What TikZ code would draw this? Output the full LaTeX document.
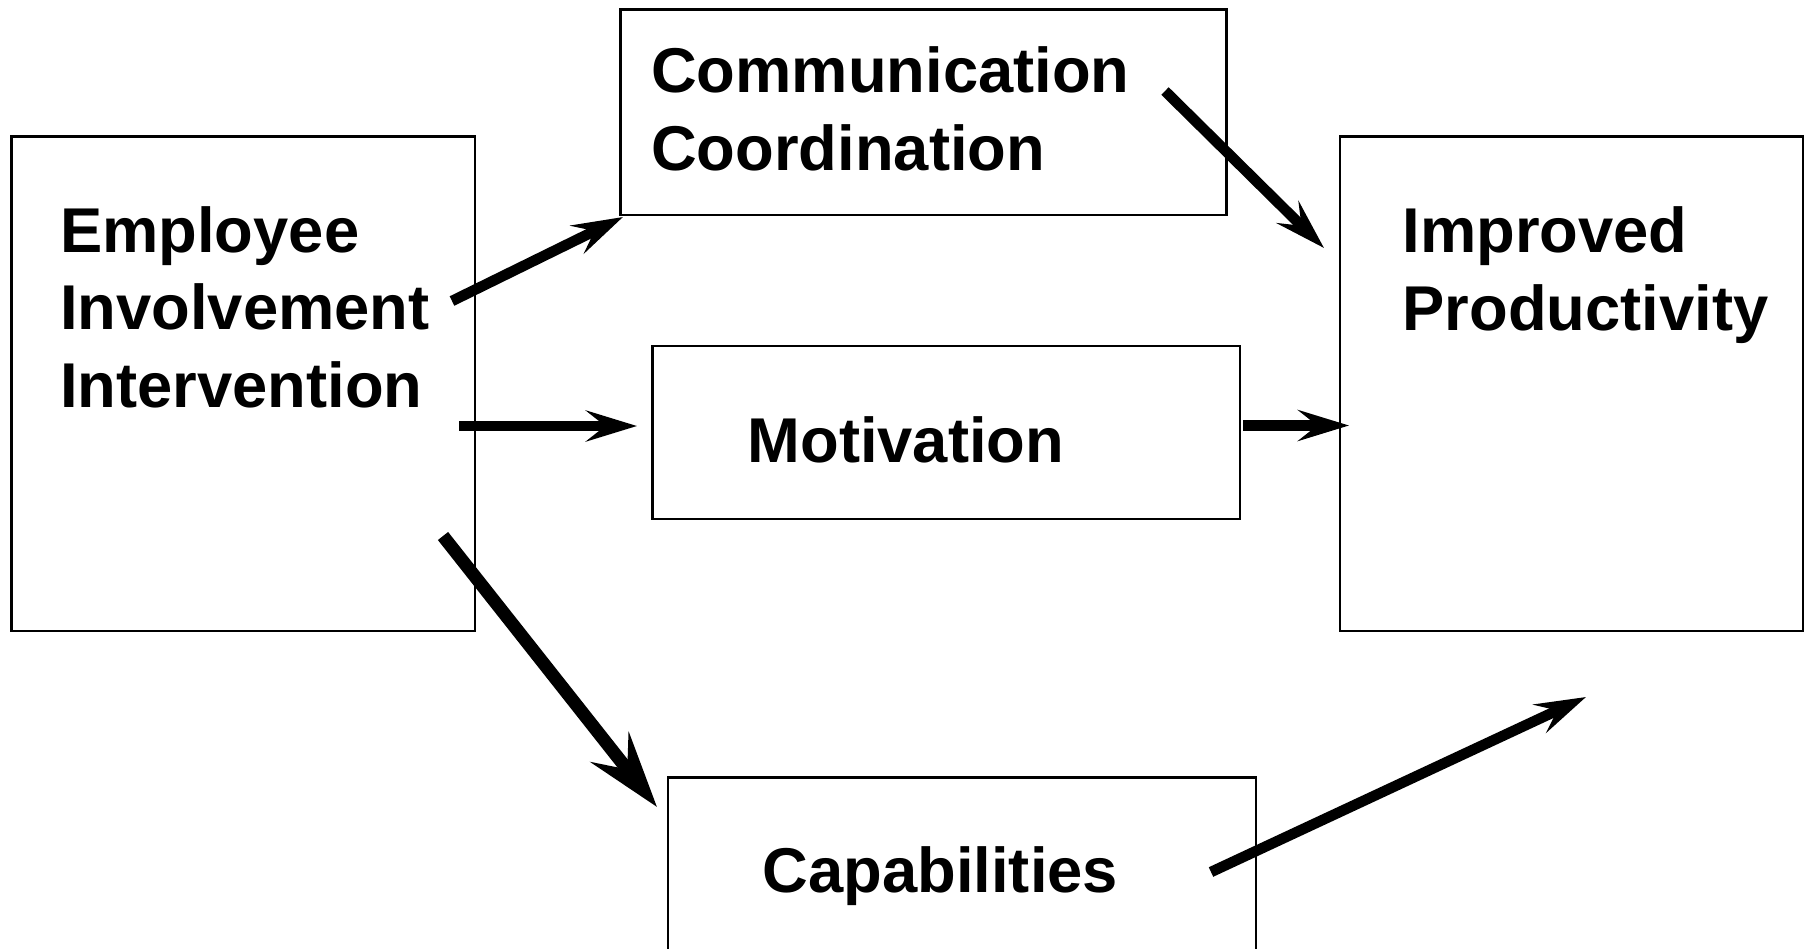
\documentclass[tikz,border=0pt]{standalone}
\usepackage{fontspec}
\setmainfont{Liberation Sans}
\usetikzlibrary{arrows.meta}

\tikzset{
  block/.style={draw, line width=0.8pt, inner sep=0pt, outer sep=0pt, anchor=north west},
  label/.style={font=\fontsize{18}{22}\selectfont\bfseries, align=left, inner sep=0pt, anchor=base west},
  flow/.style={line width=3pt, -{Stealth[length=14.5pt, width=8.8pt, inset=5.5pt]}},
  bigflow/.style={line width=3.7pt, -{Stealth[length=21.6pt, width=13.7pt, inset=8pt]}}
}

\begin{document}
\begin{tikzpicture}[x=0.01cm, y=-0.01cm]

\newcommand\blockbox[5]{
  \node[block, minimum width=#4*0.01cm, minimum height=#5*0.01cm] (#1) at (#2,#3) {};
}

\clip (0,0) rectangle (1812,948);
\fill[white] (0,0) rectangle (1812,948);

\blockbox{eii}{11.6}{136.4}{463.4}{494.6}
\blockbox{comm}{620.5}{9.5}{606}{205.5}
\blockbox{mot}{652.3}{346}{587.7}{173}
\blockbox{imp}{1340}{136.8}{463}{494.2}
\blockbox{cap}{668}{777.5}{588}{222.5}

\node[label] (eiitext) at (59.5,407) {Employee\\Involvement\\Intervention};
\node[label] (commtext) at (650.5,170) {Communication\\Coordination};
\node[label] (mottext) at (747,462.5) {Motivation};
\node[label] (imptext) at (1402,330) {Improved\\Productivity};
\node[label] (captext) at (762,892) {Capabilities};

\coordinate (eiicomm) at (452,301); \coordinate (commin) at (623,217);
\coordinate (eiimot) at (459,426); \coordinate (motin) at (637,426);
\coordinate (eiicap) at (443,536); \coordinate (capin) at (657,807);
\coordinate (commimp) at (1165,91); \coordinate (impin) at (1324,248);
\coordinate (motimp) at (1243,425.5); \coordinate (impleft) at (1349,425.5);
\coordinate (capimp) at (1211,872); \coordinate (impbelow) at (1586,697);

\draw[flow] (eiicomm) -- (commin);
\draw[flow] (eiimot) -- (motin);
\draw[bigflow] (eiicap) -- (capin);
\draw[flow] (commimp) -- (impin);
\draw[flow] (motimp) -- (impleft);
\draw[flow] (capimp) -- (impbelow);

\end{tikzpicture}
\end{document}
